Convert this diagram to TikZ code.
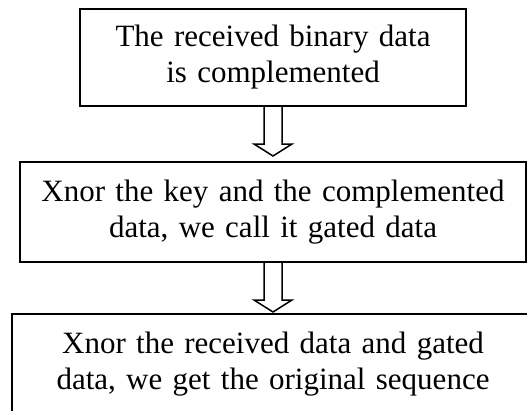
\documentclass[tikz,border=0pt]{standalone}
\usepackage{fontspec}
\setmainfont{Liberation Serif}
\usetikzlibrary{calc}
\begin{document}
\begin{tikzpicture}[x=1pt,y=-1pt,
  flowbox/.style={draw, line width=2pt, rectangle, inner sep=0pt, align=center,
    font=\fontsize{31}{36}\selectfont},
  hollowarrow/.style={draw, line width=1.5pt, line join=miter, fill=white}]
\useasboundingbox (0,0) rectangle (527,410);
\clip (0,0) rectangle (527,410);
\node[flowbox, minimum width=386pt, minimum height=97pt, text width=380pt] (b1) at (273,57.5)
  {The received binary data\\is complemented};
\node[flowbox, minimum width=506pt, minimum height=100pt, text width=500pt] (b2) at (273,212)
  {Xnor the key and the complemented\\data, we call it gated data};
\node[flowbox, minimum width=522pt, minimum height=100pt, text width=516pt] (b3) at (273,364)
  {Xnor the received data and gated\\data, we get the original sequence};
\draw[hollowarrow] ($(b1.south)+(-9,0)$) -- ++(0,37) -- ++(-10,0) -- ++(19,12) -- ++(19,-12) -- ++(-10,0) -- ++(0,-37);
\draw[hollowarrow] ($(b2.south)+(-9,0)$) -- ++(0,37) -- ++(-10,0) -- ++(19,12) -- ++(19,-12) -- ++(-10,0) -- ++(0,-37);
\end{tikzpicture}
\end{document}
